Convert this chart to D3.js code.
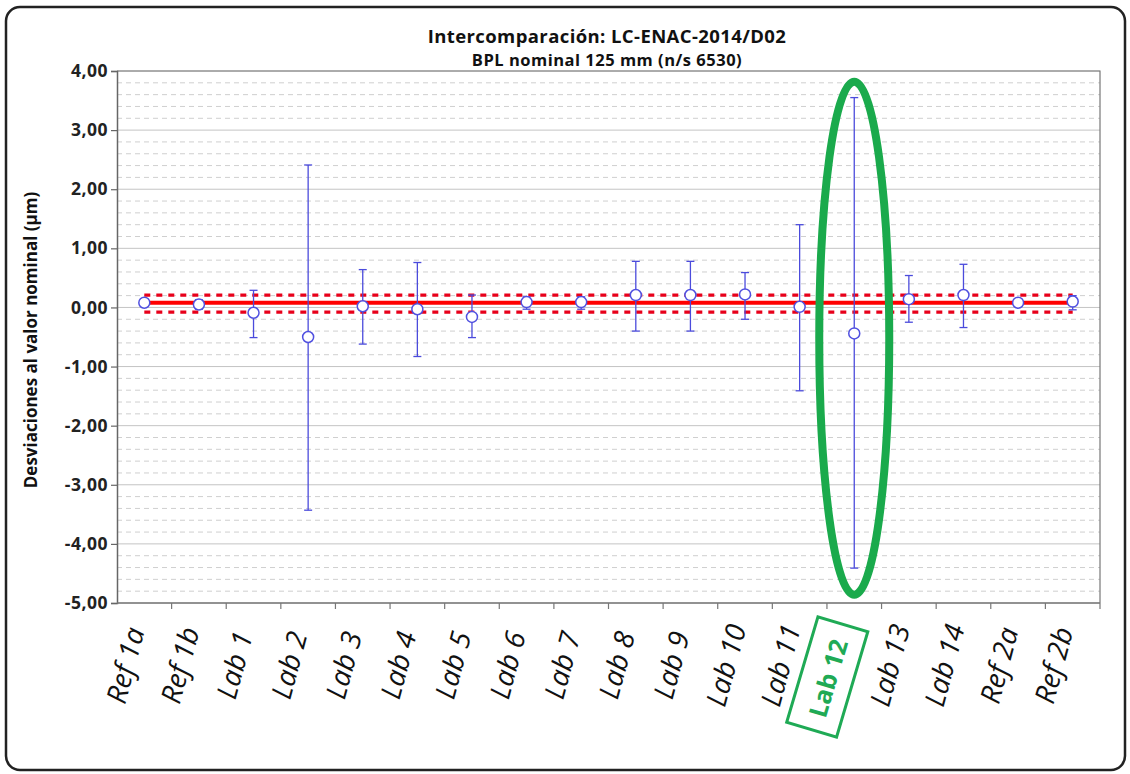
<!DOCTYPE html>
<html>
<head>
<meta charset="utf-8">
<script src="https://cdn.jsdelivr.net/npm/d3@7"></script>
<style>
  body { margin: 0; background: #fff; }
  svg { display: block; font-family: "Open Sans", sans-serif; }
</style>
</head>
<body>
<div id="chart"></div>
<script>
const categories = ["Ref 1a", "Ref 1b", "Lab 1", "Lab 2", "Lab 3", "Lab 4", "Lab 5", "Lab 6", "Lab 7",
  "Lab 8", "Lab 9", "Lab 10", "Lab 11", "Lab 12", "Lab 13", "Lab 14", "Ref 2a", "Ref 2b"]
const values = [0.08, 0.05, -0.09, -0.50, 0.02, -0.03, -0.16, 0.09, 0.09, 0.21, 0.21, 0.22, 0.01, -0.44, 0.14, 0.21, 0.08, 0.10]
const upper = [0.12, 0.13, 0.29, 2.41, 0.64, 0.76, 0.21, 0.18, 0.18, 0.78, 0.78, 0.59, 1.40, 3.55, 0.54, 0.73, 0.12, 0.20]
const lower = [0.04, -0.03, -0.51, -3.43, -0.62, -0.83, -0.51, -0.03, -0.03, -0.40, -0.40, -0.20, -1.41, -4.41, -0.25, -0.34, 0.04, -0.04]

// reference value and its limits
const refValue = 0.08
const refUpper = 0.21
const refLower = -0.08

const yTicks = [4, 3, 2, 1, 0, -1, -2, -3, -4, -5]
const highlight = "Lab 12"
const highlightSpan = [3.82, -4.86]

const title = "Intercomparación: LC-ENAC-2014/D02"
const subtitle = "BPL nominal 125 mm (n/s 6530)"
const yTitle = "Desviaciones al valor nominal (µm)"

const width = 1130, height = 774
const margin = { top: 71, right: 30, bottom: 171, left: 117 }
const plotW = width - margin.left - margin.right
const plotH = height - margin.top - margin.bottom

const svg = d3.select('#chart').append('svg')
  .attr('width', width)
  .attr('height', height)

// outer frame
svg.append('rect')
  .attr('x', 6).attr('y', 7)
  .attr('width', 1119).attr('height', 763)
  .attr('rx', 14)
  .attr('fill', '#fff')
  .attr('stroke', '#222')
  .attr('stroke-width', 2.5)

const g = svg.append('g').attr('transform', `translate(${margin.left},${margin.top})`)

const x = d3.scaleBand().domain(categories).range([0, plotW])
const cx = d => x(d) + x.bandwidth() / 2
const y = d3.scaleLinear().domain([-5, 4]).range([plotH, 0])

// minor dashed gridlines every 0.2
const minor = d3.range(-50, 41, 2).map(v => v / 10).filter(v => Math.abs(v - Math.round(v)) > 1e-6)
g.append('g').selectAll('line')
  .data(minor).enter().append('line')
  .attr('x1', 0).attr('x2', plotW)
  .attr('y1', d => y(d)).attr('y2', d => y(d))
  .attr('stroke', '#cfcfcf')
  .attr('stroke-width', 1)
  .attr('stroke-dasharray', '5,4')

// major gridlines
g.append('g').selectAll('line')
  .data(yTicks).enter().append('line')
  .attr('x1', 0).attr('x2', plotW)
  .attr('y1', d => y(d)).attr('y2', d => y(d))
  .attr('stroke', '#c4c4c4')
  .attr('stroke-width', 1)

// plot border (top/right)
g.append('path')
  .attr('d', `M0,0H${plotW}V${plotH}`)
  .attr('fill', 'none')
  .attr('stroke', '#777')
  .attr('stroke-width', 1.2)

// y axis
const yAxis = g.append('g')
  .call(d3.axisLeft(y).tickValues(yTicks).tickSize(6).tickPadding(3)
    .tickFormat(d => d3.format('.2f')(d).replace('.', ',').replace('−', '-')))
yAxis.select('.domain').attr('stroke', '#666').attr('stroke-width', 1.5)
yAxis.selectAll('.tick line').attr('stroke', '#666').attr('stroke-width', 1.2)
yAxis.selectAll('text')
  .attr('font-family', 'Open Sans')
  .attr('font-size', 17.5)
  .attr('font-weight', 'bold')
  .attr('letter-spacing', 0.5)
  .attr('fill', '#222')

// x axis: ticks at category boundaries
const xAxis = g.append('g').attr('transform', `translate(0,${plotH})`)
xAxis.append('line')
  .attr('x1', 0).attr('x2', plotW)
  .attr('stroke', '#777').attr('stroke-width', 1.5)
xAxis.selectAll('.xtick')
  .data(categories.slice(1).map(c => x(c)).concat([plotW]))
  .enter().append('line')
  .attr('class', 'xtick')
  .attr('x1', d => d).attr('x2', d => d)
  .attr('y1', 0).attr('y2', 6)
  .attr('stroke', '#777').attr('stroke-width', 1.2)

// category labels
xAxis.selectAll('.xlabel')
  .data(categories).enter().append('text')
  .attr('class', 'xlabel')
  .attr('transform', d => d === highlight
    ? `translate(${cx(d) - 27},${75}) rotate(-73.5)`
    : `translate(${cx(d) - 20},${62}) rotate(-75)`)
  .attr('text-anchor', 'middle')
  .attr('dominant-baseline', 'central')
  .attr('font-size', d => d === highlight ? 25 : 28)
  .attr('font-style', d => d === highlight ? 'normal' : 'italic')
  .attr('font-weight', d => d === highlight ? 'bold' : 'normal')
  .attr('fill', d => d === highlight ? '#1faa55' : '#111')
  .text(d => d)

// box around highlighted label
xAxis.append('rect')
  .attr('transform', `translate(${cx(highlight) - 27},${74}) rotate(-73.5)`)
  .attr('x', -55).attr('y', -26)
  .attr('width', 110).attr('height', 52)
  .attr('fill', 'none')
  .attr('stroke', '#1faa55')
  .attr('stroke-width', 3)

// reference lines
const x0 = cx(categories[0]), x1 = cx(categories[categories.length - 1])
g.append('line')
  .attr('x1', x0).attr('x2', x1)
  .attr('y1', y(refValue)).attr('y2', y(refValue))
  .attr('stroke', '#ff0000').attr('stroke-width', 4)
g.selectAll('.limit')
  .data([refUpper, refLower]).enter().append('line')
  .attr('class', 'limit')
  .attr('x1', x0).attr('x2', x1)
  .attr('y1', d => y(d)).attr('y2', d => y(d))
  .attr('stroke', '#e8001a').attr('stroke-width', 3.2)
  .attr('stroke-dasharray', '6,6')

// error bars
const blue = '#4b4bdc'
const bars = g.append('g').selectAll('g')
  .data(categories).enter().append('g')
bars.append('line')
  .attr('x1', d => cx(d)).attr('x2', d => cx(d))
  .attr('y1', (d, i) => y(upper[i])).attr('y2', (d, i) => y(lower[i]))
  .attr('stroke', blue).attr('stroke-width', 1.3)
bars.selectAll('.cap')
  .data((d, i) => [{ c: d, v: upper[i] }, { c: d, v: lower[i] }])
  .enter().append('line')
  .attr('class', 'cap')
  .attr('x1', d => cx(d.c) - 4).attr('x2', d => cx(d.c) + 4)
  .attr('y1', d => y(d.v)).attr('y2', d => y(d.v))
  .attr('stroke', blue).attr('stroke-width', 1.3)

// markers
g.append('g').selectAll('circle')
  .data(categories).enter().append('circle')
  .attr('cx', d => cx(d))
  .attr('cy', (d, i) => y(values[i]))
  .attr('r', 5.5)
  .attr('fill', '#fff')
  .attr('stroke', '#5050e0')
  .attr('stroke-width', 1.5)

// highlight ellipse
g.append('ellipse')
  .attr('cx', cx(highlight))
  .attr('cy', (y(highlightSpan[0]) + y(highlightSpan[1])) / 2)
  .attr('rx', 35)
  .attr('ry', (y(highlightSpan[1]) - y(highlightSpan[0])) / 2)
  .attr('fill', 'none')
  .attr('stroke', '#1aaa4c')
  .attr('stroke-width', 8)

// titles
svg.append('text')
  .attr('x', 607).attr('y', 43)
  .attr('text-anchor', 'middle')
  .attr('font-size', 18.5).attr('font-weight', 'bold').attr('fill', '#111')
  .attr('letter-spacing', 0.4)
  .text(title)
svg.append('text')
  .attr('x', 607).attr('y', 66)
  .attr('text-anchor', 'middle')
  .attr('font-size', 16.5).attr('font-weight', 'bold').attr('fill', '#111')
  .attr('letter-spacing', 0.5)
  .text(subtitle)
svg.append('text')
  .attr('transform', `translate(37,${margin.top + plotH / 2 + 3}) rotate(-90)`)
  .attr('text-anchor', 'middle')
  .attr('font-size', 17).attr('font-weight', 'bold').attr('fill', '#111')
  .text(yTitle)
</script>
</body>
</html>
